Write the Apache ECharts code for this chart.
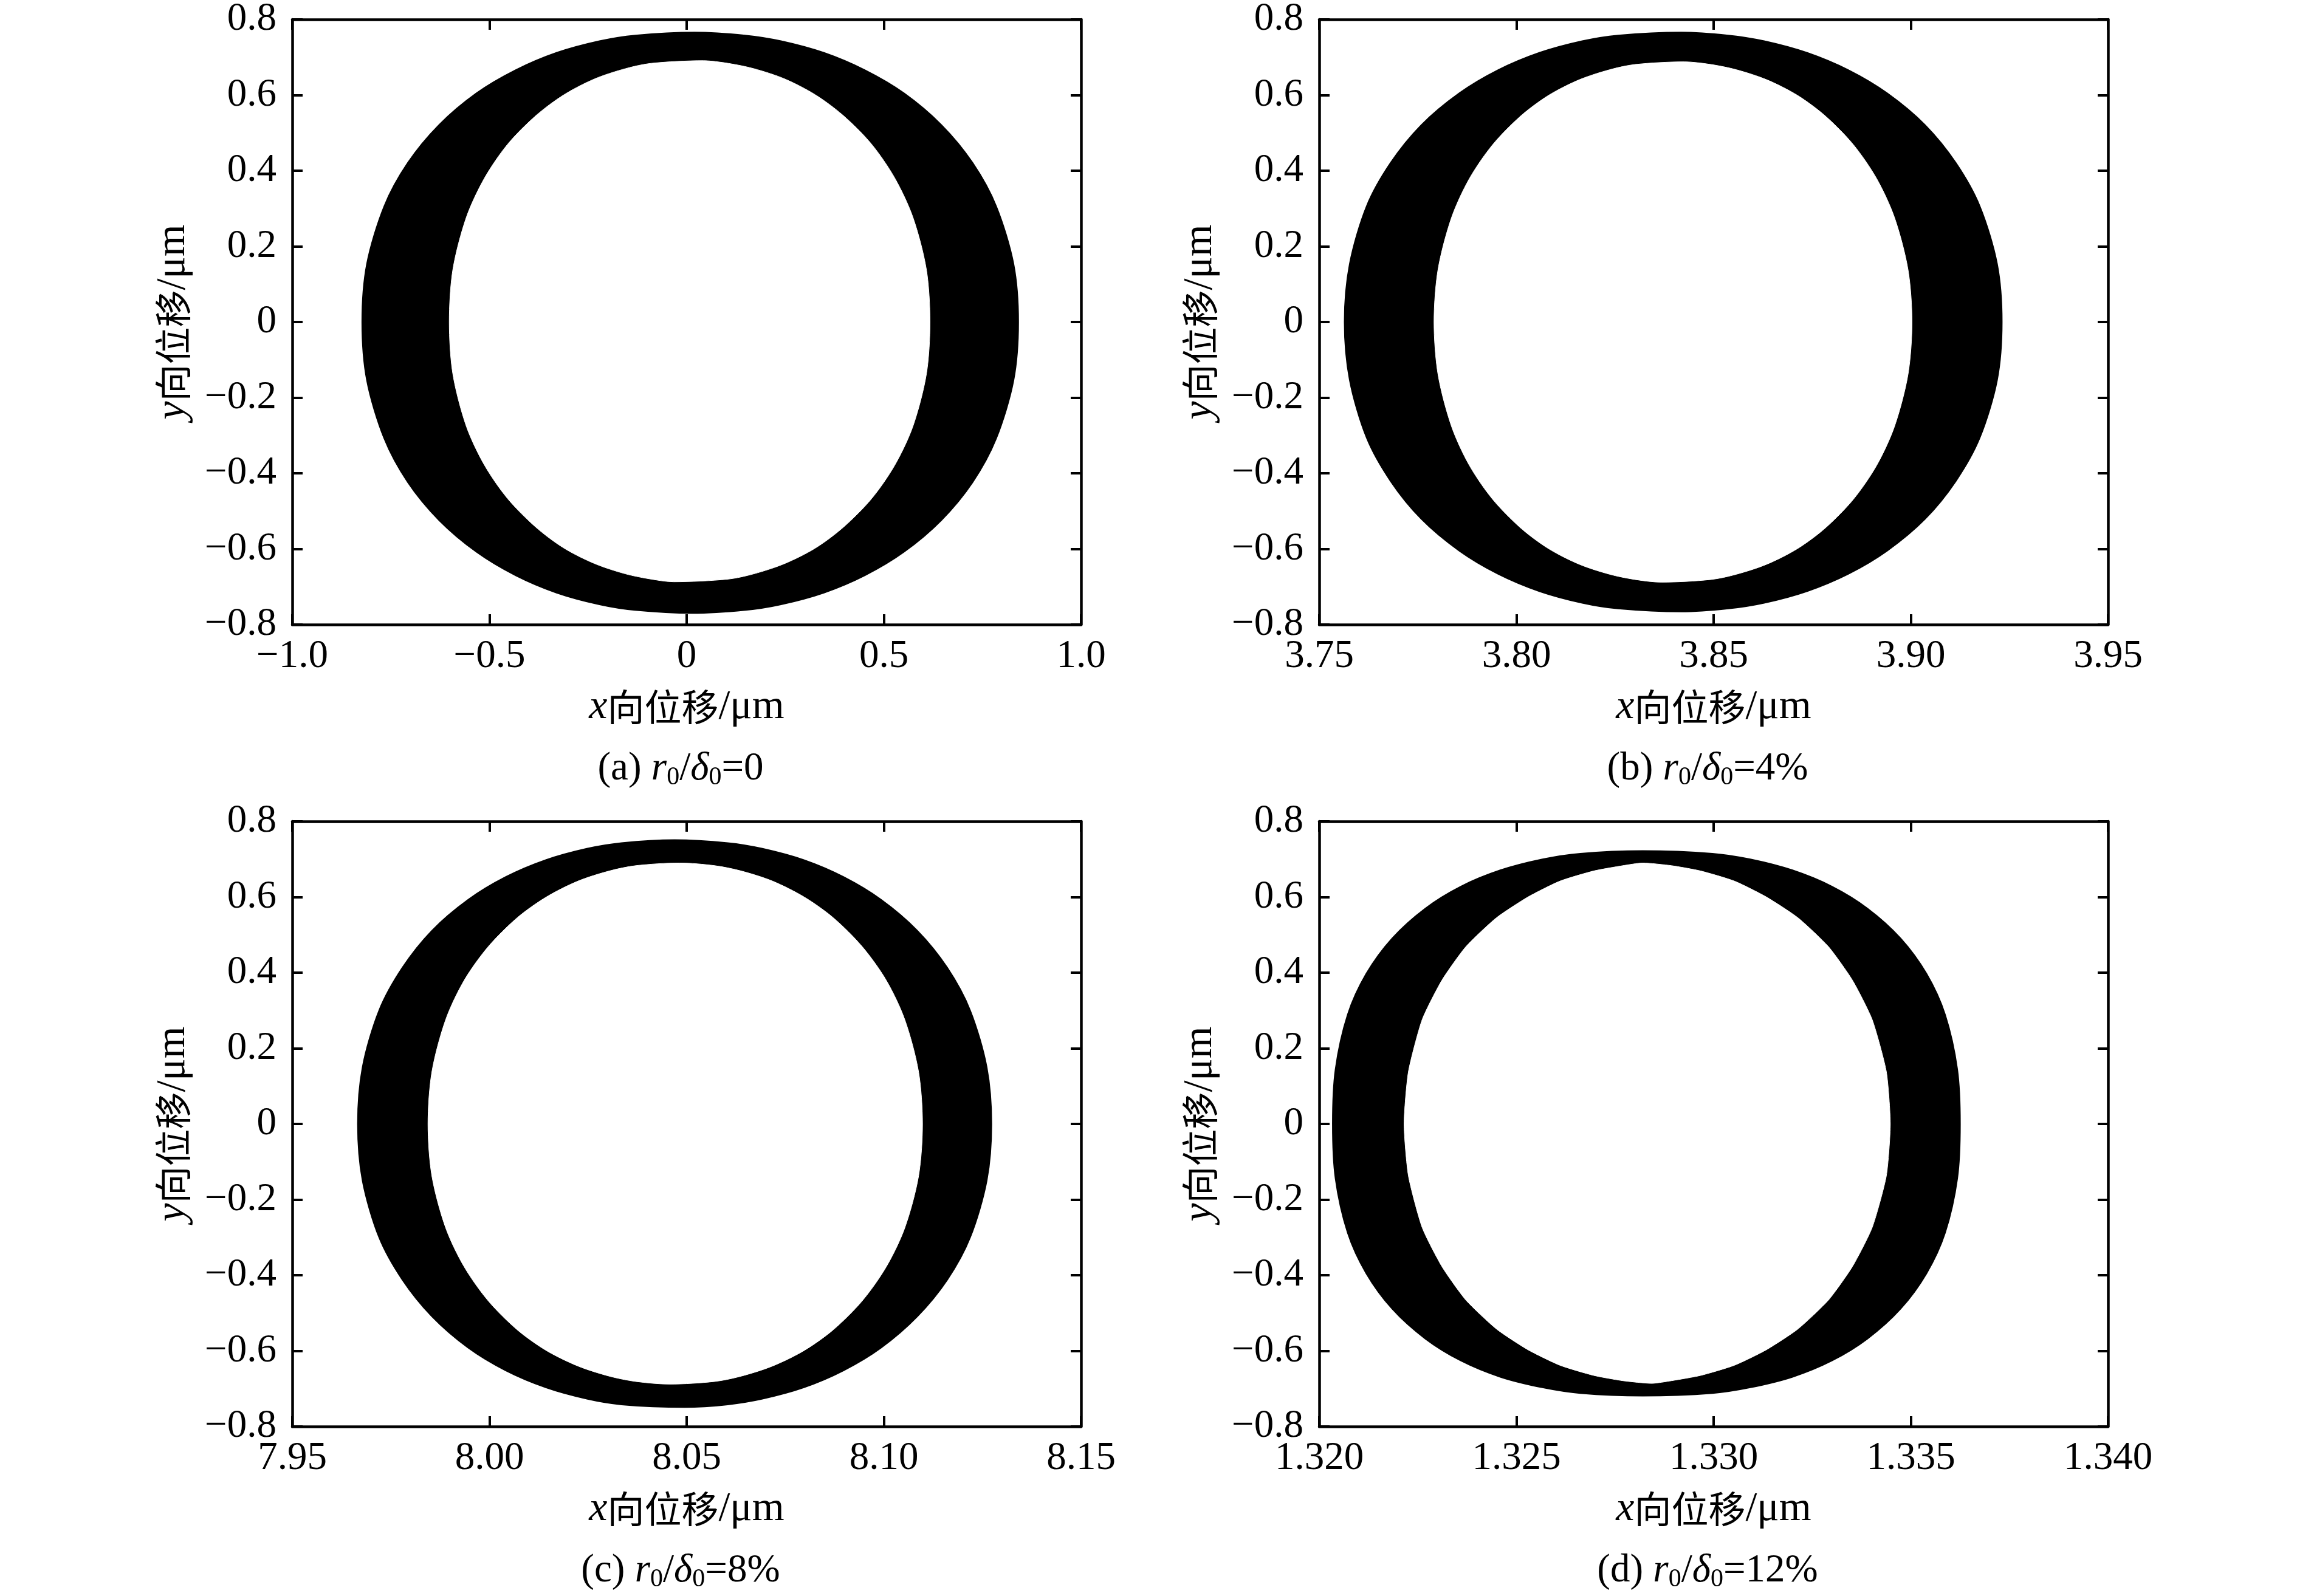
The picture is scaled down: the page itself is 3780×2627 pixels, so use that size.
<!DOCTYPE html>
<html><head><meta charset="utf-8">
<script src="https://cdn.jsdelivr.net/npm/echarts@6/dist/echarts.min.js"></script>
<style>html,body{margin:0;padding:0;background:#fff}#c{width:3780px;height:2627px}</style>
</head><body><div id="c"></div>
<script>
// ---------------- data ----------------
const yTickLabels = ['−0.8','−0.6','−0.4','−0.2','0','0.2','0.4','0.6','0.8'];
const xLabelsA = ['−1.0','−0.5','0','0.5','1.0'];
const xLabelsB = ['3.75','3.80','3.85','3.90','3.95'];
const xLabelsC = ['7.95','8.00','8.05','8.10','8.15'];
const xLabelsD = ['1.320','1.325','1.330','1.335','1.340'];
const captionValues = ['0', '4%', '8%', '12%'];
const captionLetters = ['a', 'b', 'c', 'd'];

// (a) r0/δ0 = 0 : outer and inner boundary of the orbit band
const outerA = [[0.020,0.766],[0.148,0.758],[0.239,0.743],[0.348,0.712],[0.452,0.666],[0.551,0.605],[0.646,0.521],[0.725,0.421],[0.785,0.306],[0.829,0.153],[0.841,0.000],[0.829,-0.154],[0.785,-0.308],[0.725,-0.424],[0.646,-0.524],[0.551,-0.608],[0.452,-0.670],[0.348,-0.716],[0.239,-0.747],[0.148,-0.762],[0.014,-0.770],[-0.130,-0.762],[-0.221,-0.747],[-0.330,-0.716],[-0.434,-0.670],[-0.533,-0.608],[-0.628,-0.524],[-0.707,-0.424],[-0.767,-0.308],[-0.811,-0.154],[-0.823,0.000],[-0.811,0.153],[-0.767,0.306],[-0.707,0.421],[-0.628,0.521],[-0.533,0.605],[-0.434,0.666],[-0.330,0.712],[-0.221,0.743],[-0.130,0.758]];
const innerA = [[0.042,0.691],[0.105,0.684],[0.170,0.670],[0.248,0.643],[0.326,0.601],[0.397,0.546],[0.469,0.470],[0.528,0.380],[0.574,0.276],[0.608,0.138],[0.617,0.000],[0.608,-0.137],[0.574,-0.275],[0.528,-0.378],[0.469,-0.467],[0.397,-0.543],[0.326,-0.598],[0.248,-0.639],[0.170,-0.666],[0.105,-0.680],[-0.033,-0.687],[-0.090,-0.680],[-0.155,-0.666],[-0.233,-0.639],[-0.311,-0.598],[-0.382,-0.543],[-0.454,-0.467],[-0.513,-0.378],[-0.559,-0.275],[-0.593,-0.137],[-0.602,0.000],[-0.593,0.138],[-0.559,0.276],[-0.513,0.380],[-0.454,0.470],[-0.382,0.546],[-0.311,0.601],[-0.233,0.643],[-0.155,0.670],[-0.090,0.684]];

// (b) r0/δ0 = 4%
const outerB = [[3.8418,0.766],[3.8537,0.758],[3.8628,0.743],[3.8737,0.712],[3.8842,0.666],[3.8940,0.605],[3.9036,0.521],[3.9114,0.421],[3.9175,0.306],[3.9219,0.153],[3.9231,0.000],[3.9219,-0.153],[3.9175,-0.306],[3.9114,-0.421],[3.9036,-0.521],[3.8940,-0.605],[3.8842,-0.666],[3.8737,-0.712],[3.8628,-0.743],[3.8537,-0.758],[3.8418,-0.766],[3.8258,-0.758],[3.8167,-0.743],[3.8058,-0.712],[3.7953,-0.666],[3.7855,-0.605],[3.7759,-0.521],[3.7681,-0.421],[3.7620,-0.306],[3.7577,-0.153],[3.7564,0.000],[3.7577,0.153],[3.7620,0.306],[3.7681,0.421],[3.7759,0.521],[3.7855,0.605],[3.7953,0.666],[3.8058,0.712],[3.8167,0.743],[3.8258,0.758]];
const innerB = [[3.8425,0.688],[3.8493,0.681],[3.8558,0.667],[3.8636,0.640],[3.8713,0.599],[3.8784,0.544],[3.8855,0.468],[3.8914,0.378],[3.8959,0.275],[3.8993,0.138],[3.9003,0.000],[3.8993,-0.138],[3.8959,-0.275],[3.8914,-0.378],[3.8855,-0.468],[3.8784,-0.544],[3.8713,-0.599],[3.8636,-0.640],[3.8558,-0.667],[3.8493,-0.681],[3.8367,-0.688],[3.8301,-0.681],[3.8236,-0.667],[3.8158,-0.640],[3.8081,-0.599],[3.8010,-0.544],[3.7939,-0.468],[3.7880,-0.378],[3.7835,-0.275],[3.7801,-0.138],[3.7791,0.000],[3.7801,0.138],[3.7835,0.275],[3.7880,0.378],[3.7939,0.468],[3.8010,0.544],[3.8081,0.599],[3.8158,0.640],[3.8236,0.667],[3.8301,0.681]];

// (c) r0/δ0 = 8%
const outerC = [[8.0469,0.751],[8.0604,0.743],[8.0692,0.728],[8.0797,0.698],[8.0898,0.653],[8.0993,0.593],[8.1085,0.511],[8.1161,0.413],[8.1219,0.300],[8.1261,0.150],[8.1273,0.000],[8.1261,-0.150],[8.1219,-0.300],[8.1161,-0.412],[8.1085,-0.509],[8.0993,-0.592],[8.0898,-0.652],[8.0797,-0.697],[8.0692,-0.727],[8.0604,-0.742],[8.0495,-0.749],[8.0335,-0.742],[8.0247,-0.727],[8.0143,-0.697],[8.0041,-0.652],[7.9946,-0.592],[7.9854,-0.509],[7.9779,-0.412],[7.9720,-0.300],[7.9678,-0.150],[7.9666,0.000],[7.9678,0.150],[7.9720,0.300],[7.9779,0.413],[7.9854,0.511],[7.9946,0.593],[8.0041,0.653],[8.0143,0.698],[8.0247,0.728],[8.0335,0.743]];
const innerC = [[8.0482,0.690],[8.0571,0.683],[8.0638,0.669],[8.0718,0.642],[8.0798,0.600],[8.0872,0.545],[8.0945,0.469],[8.1006,0.380],[8.1053,0.276],[8.1088,0.138],[8.1098,0.000],[8.1088,-0.138],[8.1053,-0.275],[8.1006,-0.378],[8.0945,-0.468],[8.0872,-0.544],[8.0798,-0.599],[8.0718,-0.640],[8.0638,-0.667],[8.0571,-0.681],[8.0457,-0.688],[8.0371,-0.681],[8.0304,-0.667],[8.0224,-0.640],[8.0144,-0.599],[8.0070,-0.544],[7.9997,-0.468],[7.9936,-0.378],[7.9889,-0.275],[7.9854,-0.138],[7.9844,0.000],[7.9854,0.138],[7.9889,0.276],[7.9936,0.380],[7.9997,0.469],[8.0070,0.545],[8.0144,0.600],[8.0224,0.642],[8.0304,0.669],[8.0371,0.683]];

// (d) r0/δ0 = 12%
const outerD = [[1.32820,0.722],[1.32997,0.715],[1.33093,0.700],[1.33200,0.671],[1.33300,0.628],[1.33390,0.570],[1.33474,0.491],[1.33540,0.397],[1.33587,0.289],[1.33618,0.144],[1.33625,0.000],[1.33618,-0.144],[1.33587,-0.288],[1.33540,-0.395],[1.33474,-0.489],[1.33390,-0.568],[1.33300,-0.626],[1.33200,-0.669],[1.33093,-0.697],[1.32997,-0.712],[1.32820,-0.719],[1.32662,-0.712],[1.32566,-0.697],[1.32459,-0.669],[1.32359,-0.626],[1.32269,-0.568],[1.32185,-0.489],[1.32119,-0.395],[1.32072,-0.288],[1.32041,-0.144],[1.32034,0.000],[1.32041,0.144],[1.32072,0.289],[1.32119,0.397],[1.32185,0.491],[1.32269,0.570],[1.32359,0.628],[1.32459,0.671],[1.32566,0.700],[1.32662,0.715]];
const innerD = [[1.32820,0.690],[1.32893,0.683],[1.32967,0.669],[1.33053,0.642],[1.33134,0.600],[1.33214,0.545],[1.33291,0.469],[1.33352,0.380],[1.33402,0.276],[1.33438,0.138],[1.33448,0.000],[1.33438,-0.137],[1.33402,-0.274],[1.33352,-0.377],[1.33291,-0.466],[1.33214,-0.542],[1.33134,-0.597],[1.33053,-0.638],[1.32967,-0.665],[1.32893,-0.679],[1.32843,-0.686],[1.32770,-0.679],[1.32696,-0.665],[1.32610,-0.638],[1.32529,-0.597],[1.32449,-0.542],[1.32372,-0.466],[1.32311,-0.377],[1.32261,-0.274],[1.32226,-0.137],[1.32215,0.000],[1.32226,0.138],[1.32261,0.276],[1.32311,0.380],[1.32372,0.469],[1.32449,0.545],[1.32529,0.600],[1.32610,0.642],[1.32696,0.669],[1.32770,0.683]];

// ---------------- layout / styling ----------------
const panels = [
  {outer: outerA, inner: innerA, xMin: -1,    xMax: 1,    xStep: 0.5,   xLabels: xLabelsA, left: 481,  top: 32},
  {outer: outerB, inner: innerB, xMin: 3.75,  xMax: 3.95, xStep: 0.05,  xLabels: xLabelsB, left: 2171, top: 32},
  {outer: outerC, inner: innerC, xMin: 7.95,  xMax: 8.15, xStep: 0.05,  xLabels: xLabelsC, left: 481,  top: 1352},
  {outer: outerD, inner: innerD, xMin: 1.320, xMax: 1.340, xStep: 0.005, xLabels: xLabelsD, left: 2171, top: 1352}
];
const W = 1298, H = 996;
const SERIF = 'Liberation Serif';
const CJK = 'Noto Sans CJK SC';
const FS = 65;
const lineCommon = {show: true, onZero: false, lineStyle: {color: '#000', width: 4.5}};
const tickCommon = {show: true, inside: true, length: 17, lineStyle: {color: '#000', width: 4}};
const nameRich = {
  i: {fontFamily: SERIF, fontStyle: 'italic', fontSize: 68, color: '#000', lineHeight: 68},
  c: {fontFamily: CJK, fontSize: 61, color: '#000', lineHeight: 68},
  n: {fontFamily: SERIF, fontSize: 68, color: '#000', lineHeight: 68}
};
const capRich = {
  t: {fontFamily: SERIF, fontSize: FS, color: '#000', lineHeight: 70},
  i: {fontFamily: SERIF, fontStyle: 'italic', fontSize: FS, color: '#000', lineHeight: 70},
  s: {fontFamily: SERIF, fontSize: 42, color: '#000', lineHeight: 40, verticalAlign: 'bottom'}
};

const grid = [], xAxis = [], yAxis = [], series = [], graphic = [];
function polySeries(pts, k, fill, stroke, lw, sm) {
  return {
    type: 'custom', xAxisIndex: 2 * k, yAxisIndex: 2 * k, data: pts, silent: true, animation: false,
    renderItem: function (params, api) {
      if (params.dataIndex !== 0) return null;
      const points = pts.map(function (p) { return api.coord(p); });
      return {type: 'polygon', shape: {points: points, smooth: sm}, style: {fill: fill, stroke: stroke, lineWidth: lw}};
    }
  };
}
panels.forEach(function (p, k) {
  grid.push({left: p.left, top: p.top, width: W, height: H, containLabel: false, outerBoundsMode: 'none'});
  const xl = p.xLabels, mn = p.xMin, st = p.xStep;
  xAxis.push({
    type: 'value', gridIndex: k, position: 'bottom', min: p.xMin, max: p.xMax, interval: p.xStep,
    axisLine: lineCommon, axisTick: tickCommon, splitLine: {show: false},
    axisLabel: {show: true, margin: 20, fontFamily: SERIF, fontSize: FS, color: '#000', showMinLabel: true, showMaxLabel: true,
      formatter: function (v) { const i = Math.round((v - mn) / st); return xl[i] !== undefined ? xl[i] : ''; }},
    name: '{i|x}{c|向位移}{n|/μm}', nameLocation: 'middle', nameGap: 102,
    nameTextStyle: {rich: nameRich}
  });
  xAxis.push({
    type: 'value', gridIndex: k, position: 'top', min: p.xMin, max: p.xMax, interval: p.xStep,
    axisLine: lineCommon, axisTick: tickCommon, splitLine: {show: false}, axisLabel: {show: false}
  });
  yAxis.push({
    type: 'value', gridIndex: k, position: 'left', min: -0.8, max: 0.8, interval: 0.2,
    axisLine: lineCommon, axisTick: tickCommon, splitLine: {show: false},
    axisLabel: {show: true, margin: 26, fontFamily: SERIF, fontSize: FS, color: '#000', showMinLabel: true, showMaxLabel: true,
      formatter: function (v) { const i = Math.round((v + 0.8) / 0.2); return yTickLabels[i] !== undefined ? yTickLabels[i] : ''; }},
    name: '{i|y}{c|向位移}{n|/μm}', nameLocation: 'middle', nameGap: 162,
    nameTextStyle: {rich: nameRich}
  });
  yAxis.push({
    type: 'value', gridIndex: k, position: 'right', min: -0.8, max: 0.8, interval: 0.2,
    axisLine: lineCommon, axisTick: tickCommon, splitLine: {show: false}, axisLabel: {show: false}
  });
  series.push(polySeries(p.outer, k, '#000', '#000', 2, 0.3));
  series.push(polySeries(p.inner, k, '#fff', '#fff', 1, k === 3 ? 0.2 : 0.3));
  graphic.push({
    type: 'text', x: p.left + W / 2 - 10, y: p.top + H + 238, z: 10,
    style: {
      text: '{t|(' + captionLetters[k] + ') }{i|r}{s|0}{t|/}{i|δ}{s|0}{t|=' + captionValues[k] + '}',
      rich: capRich, align: 'center', verticalAlign: 'middle', fill: '#000'
    }
  });
});

const chart = echarts.init(document.getElementById('c'), null, {renderer: 'canvas'});
chart.setOption({backgroundColor: '#fff', animation: false, grid: grid, xAxis: xAxis, yAxis: yAxis, series: series, graphic: graphic});
</script></body></html>
